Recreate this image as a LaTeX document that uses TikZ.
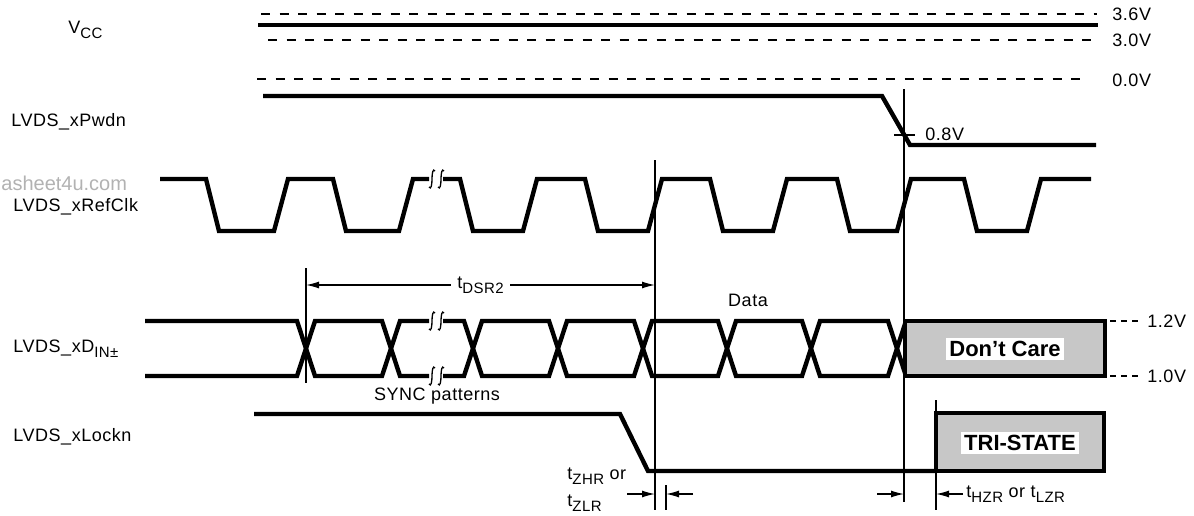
\documentclass[tikz,border=0pt]{standalone}
\usepackage{fontspec}
\setmainfont{Liberation Sans}[LetterSpace=3]
\newfontfamily\plainsans{Liberation Sans}
\usetikzlibrary{arrows.meta}

\newcommand{\lsub}[1]{\raisebox{-0.55ex}{\fontsize{7.5}{8}\selectfont #1}}
% break mark on a waveform
\newcommand{\squig}[2]{%
  \draw[fine] (#1+3,#2-8) .. controls (#1+1,#2-11) and (#1,#2-6) .. (#1,#2)
    .. controls (#1,#2+6) and (#1-1,#2+11) .. (#1-3,#2+8);}

\begin{document}
\begin{tikzpicture}[x=0.5pt,y=-0.5pt,
  font=\fontsize{9}{11}\selectfont,
  every node/.style={inner sep=1pt},
  sig/.style={line width=2.2pt},
  fine/.style={line width=0.65pt},
  dashline/.style={line width=0.65pt,dash pattern=on 4.5pt off 4.75pt},
  stub/.style={line width=0.65pt,dash pattern=on 3pt off 2.5pt},
  statebox/.style={line width=2.2pt,fill=black!22},
  boxtext/.style={fill=white,inner sep=1.5pt,font=\plainsans\bfseries\fontsize{11}{13}\selectfont},
  >={Latex[length=6.5pt,width=3.5pt]}]
\useasboundingbox (0,0) rectangle (1194,515);

% signal names
\node[anchor=west] (vcc) at (66,30) {V\lsub{CC}};
\node[anchor=west] (pwdn) at (9,122) {LVDS\_xPwdn};
\node[anchor=west,text=black!30,font=\plainsans\fontsize{10}{12}\selectfont] (wmark) at (-1,183) {asheet4u.com};
\node[anchor=west] (refclk) at (11,207) {LVDS\_xRefClk};
\node[anchor=west] (din) at (11,349) {LVDS\_xD\lsub{IN±}};
\node[anchor=west] (lockn) at (11,437) {LVDS\_xLockn};

% supply
\draw[dashline] (261,14) -- (1097,14);
\draw[sig] (258,25) -- (1098,25);
\draw[dashline] (268,40) -- (1097,40);
\draw[dashline] (257,79) -- (1088,79);
\node[anchor=west] (v36) at (1110,14) {3.6V};
\node[anchor=west] (v30) at (1110,40) {3.0V};
\node[anchor=west] (v00) at (1110,80) {0.0V};

% power down
\draw[sig] (263,96) -- (882,96) -- (910,145) -- (1096,145);
\draw[fine] (894,135) -- (915,135);
\node[anchor=west] (v08) at (923,134) {0.8V};

% reference clock
\draw[sig] (160,179) -- (206,179) -- (219,231) -- (274,231) -- (288,179) -- (333,179)
  -- (346,231) -- (399,231) -- (413,179) -- (429,179);
\squig{432}{179}
\squig{441}{179}
\draw[sig] (443,179) -- (460,179) -- (473,231) -- (523,231) -- (537,179) -- (585,179)
  -- (598,231) -- (648,231) -- (662,179) -- (710,179) -- (723,231) -- (773,231)
  -- (787,179) -- (837,179) -- (850,231) -- (897,231) -- (911,179) -- (964,179)
  -- (977,231) -- (1027,231) -- (1041,179) -- (1091,179);

% data in
\draw[sig] (145,321) -- (297,321) -- (315,376) -- (382,376) -- (400,321) -- (429,321);
\draw[sig] (145,376) -- (297,376) -- (315,321) -- (382,321) -- (400,376) -- (429,376);
\squig{432}{321}
\squig{441}{321}
\squig{432}{376}
\squig{441}{376}
\draw[sig] (443,321) -- (464,321) -- (482,376) -- (549,376) -- (567,321) -- (634,321)
  -- (652,376) -- (718,376) -- (736,321) -- (802,321) -- (820,376) -- (888,376) -- (906,321);
\draw[sig] (443,376) -- (464,376) -- (482,321) -- (549,321) -- (567,376) -- (634,376)
  -- (652,321) -- (718,321) -- (736,376) -- (802,376) -- (820,321) -- (888,321) -- (906,376);
\draw[statebox] (905,321) rectangle (1105,376);
\node[boxtext] (dontcare) at (1005,349) {Don’t Care};
\draw[stub] (1110,321) -- (1142,321);
\draw[stub] (1110,376) -- (1142,376);
\node[anchor=west] (v12) at (1145,321) {1.2V};
\node[anchor=west] (v10) at (1145,376) {1.0V};
\node (data) at (748,300) {Data};
\node (sync) at (437,396) {SYNC patterns};

% lock
\draw[sig] (254,414) -- (620,414) -- (648,471) -- (936,471);
\draw[statebox] (936,413) rectangle (1104,471);
\node[boxtext] (tristate) at (1020,443) {TRI-STATE};

% timing markers
\draw[fine] (306,268) -- (306,383);
\draw[fine] (655,160) -- (655,510);
\draw[fine] (904,89) -- (904,502);
\draw[fine] (936,400) -- (936,510);
\draw[fine] (666,485) -- (666,510);

\coordinate (syncstart) at (306,285);
\coordinate (lockdrop) at (655,285);
\draw[fine,<->] (syncstart) -- node[fill=white,inner sep=3pt] (tdsr) {t\lsub{DSR2}} (lockdrop);

\coordinate (za) at (627,494);
\coordinate (zb) at (655,494);
\coordinate (zc) at (693,494);
\coordinate (zd) at (666,494);
\coordinate (ha) at (877,494);
\coordinate (hb) at (904,494);
\coordinate (hc) at (963,494);
\coordinate (hd) at (936,494);
\draw[fine,->] (za) -- (zb);
\draw[fine,->] (zc) -- (zd);
\draw[fine,->] (ha) -- (hb);
\draw[fine,->] (hc) -- (hd);
\node[anchor=west] (tzhr) at (565,476) {t\lsub{ZHR} or};
\node[anchor=west] (tzlr) at (565,503) {t\lsub{ZLR}};
\node[anchor=west] (thzr) at (964,494) {t\lsub{HZR} or t\lsub{LZR}};
\end{tikzpicture}
\end{document}
